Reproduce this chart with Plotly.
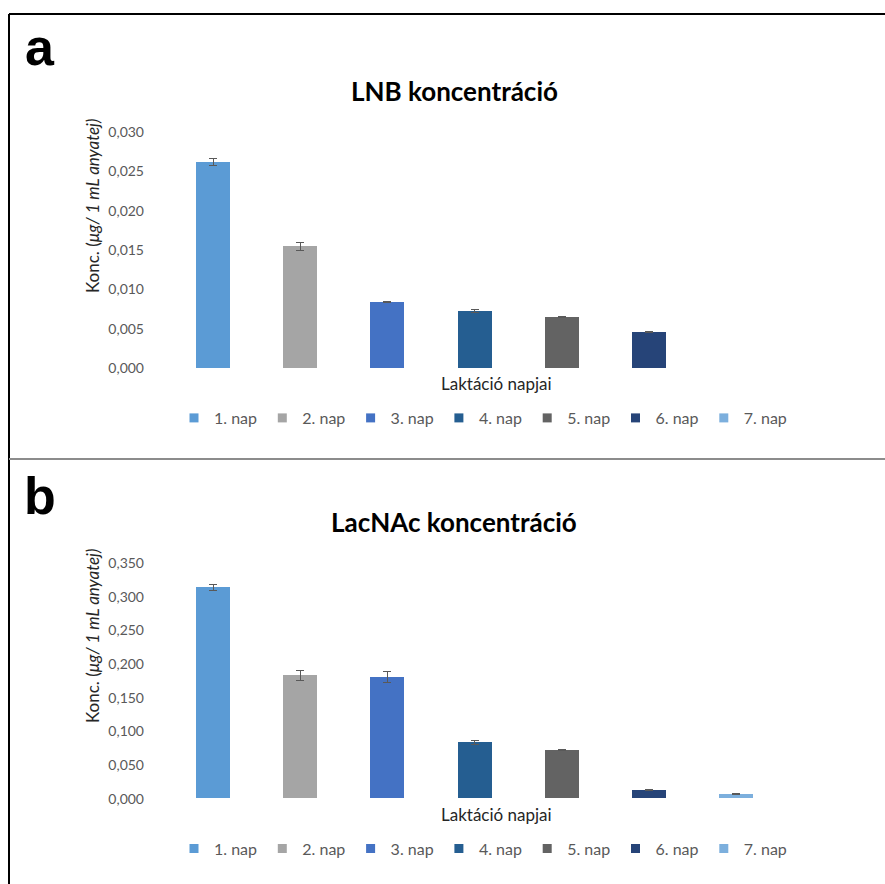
import plotly.graph_objects as go

# ---------------- data ----------------
days = ["1. nap", "2. nap", "3. nap", "4. nap", "5. nap", "6. nap", "7. nap"]
colors = ["#5B9BD5", "#A5A5A5", "#4472C4", "#255E91", "#636363", "#264478", "#7CAFDD"]

lnb_vals = [0.0262, 0.0155, 0.0084, 0.0072, 0.0065, 0.0046, None]
lnb_err = [0.0004, 0.0005, 0.0001, 0.0002, 0.0001, 0.0001, None]

lacnac_vals = [0.314, 0.183, 0.181, 0.084, 0.072, 0.0125, 0.0065]
lacnac_err = [0.0045, 0.007, 0.008, 0.003, 0.001, 0.001, 0.0005]

lnb_ticks = [0.000, 0.005, 0.010, 0.015, 0.020, 0.025, 0.030]
lacnac_ticks = [0.000, 0.050, 0.100, 0.150, 0.200, 0.250, 0.300, 0.350]

panel_titles = ["LNB koncentráció", "LacNAc koncentráció"]
panel_letters = ["a", "b"]
x_title = "Laktáció napjai"
y_title = "Konc. (<i>μg/ 1 mL anyatej)</i>"

# ---------------- layout helpers ----------------
W, H = 885, 884
FONT = "Lato"
TXT = "#595959"


def px(x):
    return x / W


def py(y):
    return 1 - y / H


fig = go.Figure()

panels = [
    dict(vals=lnb_vals, err=lnb_err, xa="x", ya="y", legend="legend"),
    dict(vals=lacnac_vals, err=lacnac_err, xa="x2", ya="y2", legend="legend2"),
]

for p in panels:
    fig.add_trace(go.Bar(
        x=days, y=p["vals"], xaxis=p["xa"], yaxis=p["ya"],
        marker=dict(color=colors, line=dict(width=0)),
        width=0.39,
        error_y=dict(type="data", array=p["err"], color="#595959", thickness=1, width=4),
        showlegend=False, hoverinfo="x+y",
    ))
    for d, c in zip(days, colors):
        fig.add_trace(go.Scatter(
            x=[None], y=[None], mode="markers", name=d,
            xaxis=p["xa"], yaxis=p["ya"], legend=p["legend"],
            marker=dict(symbol="square", size=9, color=c),
        ))

xrange = [-0.78, 7.25]
xdom = [px(145), px(845)]
axis_common = dict(showgrid=False, zeroline=False, showline=False)

legend_common = dict(orientation="h", xanchor="left", yanchor="middle",
                     entrywidth=43.3, entrywidthmode="pixels", itemwidth=30,
                     font=dict(family=FONT, size=16, color=TXT), bgcolor="rgba(0,0,0,0)")

fig.update_layout(
    width=W, height=H,
    margin=dict(l=0, r=0, t=0, b=0, autoexpand=False),
    paper_bgcolor="white", plot_bgcolor="white",
    separators=",.",
    font=dict(family=FONT, size=14, color=TXT),
    bargap=0,
    xaxis=dict(domain=xdom, range=xrange, showticklabels=False, ticks="", **axis_common),
    xaxis2=dict(domain=xdom, range=xrange, showticklabels=False, ticks="", **axis_common),
    yaxis=dict(domain=[py(368), py(132)], range=[0, 0.030], tickvals=lnb_ticks, automargin=False,
               tickformat=".3f", ticks="", tickfont=dict(size=14, color=TXT), **axis_common),
    yaxis2=dict(domain=[py(798.7), py(563.3)], range=[0, 0.350], tickvals=lacnac_ticks, automargin=False,
                tickformat=".3f", ticks="", tickfont=dict(size=14, color=TXT), **axis_common),
    legend=dict(x=px(174), y=py(418), **legend_common),
    legend2=dict(x=px(174), y=py(848.5), **legend_common),
)

annotations = []
for letter, ly in zip(panel_letters, [47, 496]):
    annotations.append(dict(text=f"<b>{letter}</b>", x=px(40), y=py(ly), xref="paper", yref="paper",
                            showarrow=False, xanchor="center", yanchor="middle",
                            font=dict(family="Liberation Sans", size=52, color="black")))
for title, ty in zip(panel_titles, [91, 522]):
    annotations.append(dict(text=f"<b>{title}</b>", x=px(454), y=py(ty), xref="paper", yref="paper",
                            showarrow=False, xanchor="center", yanchor="middle",
                            font=dict(family=FONT, size=26, color="black")))
for xy in [383, 814]:
    annotations.append(dict(text=x_title, x=px(496), y=py(xy), xref="paper", yref="paper",
                            showarrow=False, xanchor="center", yanchor="middle",
                            font=dict(family=FONT, size=17, color="#262626")))
for yy in [206, 636]:
    annotations.append(dict(text=y_title, x=px(92), y=py(yy), xref="paper", yref="paper",
                            showarrow=False, xanchor="center", yanchor="middle", textangle=-90,
                            font=dict(family=FONT, size=17, color="#262626")))
fig.update_layout(annotations=annotations)

shapes = [
    dict(type="line", xref="paper", yref="paper", x0=px(9), x1=1, y0=py(14), y1=py(14),
         line=dict(color="black", width=2)),
    dict(type="line", xref="paper", yref="paper", x0=px(9), x1=px(9), y0=py(14), y1=0,
         line=dict(color="black", width=2)),
    dict(type="line", xref="paper", yref="paper", x0=px(9), x1=1, y0=py(459), y1=py(459),
         line=dict(color="#8C8C8C", width=2)),
]
fig.update_layout(shapes=shapes)

fig.write_html("out.html")
